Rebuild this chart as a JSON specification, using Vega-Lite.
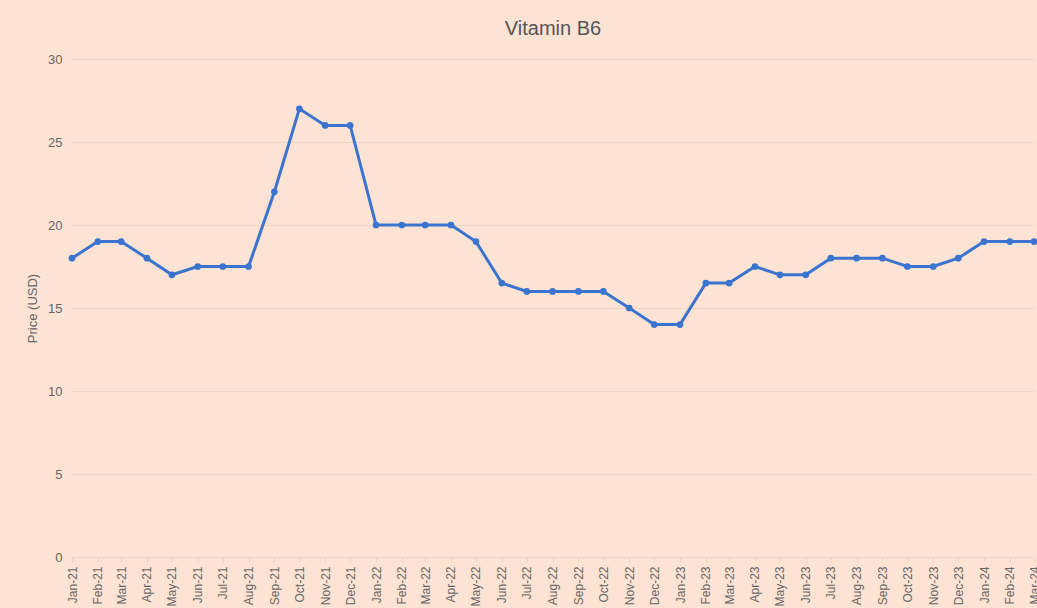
{
  "$schema": "https://vega.github.io/schema/vega-lite/v6.json",
  "autosize": {"type": "none"},
  "width": 962,
  "height": 498,
  "padding": {"left": 72, "top": 59, "right": 3, "bottom": 51},
  "background": "#fde3d4",
  "title": {"text": "Vitamin B6", "fontSize": 20, "font": "Liberation Sans", "fontWeight": "normal", "color": "#555555", "offset": 14, "anchor": "middle"},
  "config": {"view": {"stroke": null}, "font": "Liberation Sans"},
  "data": {"values": [
    {"month": "2021-01-01", "price": 18},
    {"month": "2021-02-01", "price": 19},
    {"month": "2021-03-01", "price": 19},
    {"month": "2021-04-01", "price": 18},
    {"month": "2021-05-01", "price": 17},
    {"month": "2021-06-01", "price": 17.5},
    {"month": "2021-07-01", "price": 17.5},
    {"month": "2021-08-01", "price": 17.5},
    {"month": "2021-09-01", "price": 22},
    {"month": "2021-10-01", "price": 27},
    {"month": "2021-11-01", "price": 26},
    {"month": "2021-12-01", "price": 26},
    {"month": "2022-01-01", "price": 20},
    {"month": "2022-02-01", "price": 20},
    {"month": "2022-03-01", "price": 20},
    {"month": "2022-04-01", "price": 20},
    {"month": "2022-05-01", "price": 19},
    {"month": "2022-06-01", "price": 16.5},
    {"month": "2022-07-01", "price": 16},
    {"month": "2022-08-01", "price": 16},
    {"month": "2022-09-01", "price": 16},
    {"month": "2022-10-01", "price": 16},
    {"month": "2022-11-01", "price": 15},
    {"month": "2022-12-01", "price": 14},
    {"month": "2023-01-01", "price": 14},
    {"month": "2023-02-01", "price": 16.5},
    {"month": "2023-03-01", "price": 16.5},
    {"month": "2023-04-01", "price": 17.5},
    {"month": "2023-05-01", "price": 17},
    {"month": "2023-06-01", "price": 17},
    {"month": "2023-07-01", "price": 18},
    {"month": "2023-08-01", "price": 18},
    {"month": "2023-09-01", "price": 18},
    {"month": "2023-10-01", "price": 17.5},
    {"month": "2023-11-01", "price": 17.5},
    {"month": "2023-12-01", "price": 18},
    {"month": "2024-01-01", "price": 19},
    {"month": "2024-02-01", "price": 19},
    {"month": "2024-03-01", "price": 19}
  ]},
  "mark": {"type": "line", "color": "#3b74cf", "strokeWidth": 3, "point": {"filled": true, "size": 45, "color": "#3b74cf"}},
  "encoding": {
    "x": {
      "field": "month", "type": "temporal",
      "scale": {"nice": false},
      "axis": {
        "title": null, "format": "%b-%y", "tickCount": {"interval": "month", "step": 1},
        "labelAngle": -90, "labelAlign": "right", "labelBaseline": "middle",
        "labelFontSize": 12, "labelColor": "#666666", "labelPadding": 4,
        "domain": false, "ticks": true, "tickColor": "#efd2c2", "tickSize": 5,
        "grid": false, "labelOverlap": false, "labelFlush": false
      }
    },
    "y": {
      "field": "price", "type": "quantitative",
      "scale": {"domain": [0, 30], "nice": false},
      "axis": {
        "title": "Price (USD)", "titleFontSize": 13, "titleFontWeight": "normal", "titleColor": "#666666", "titlePadding": 8,
        "values": [0, 5, 10, 15, 20, 25, 30],
        "labelFontSize": 13, "labelColor": "#666666", "labelPadding": 10,
        "domain": false, "ticks": false, "gridColor": "#f0d4c5", "gridWidth": 1
      }
    }
  }
}
